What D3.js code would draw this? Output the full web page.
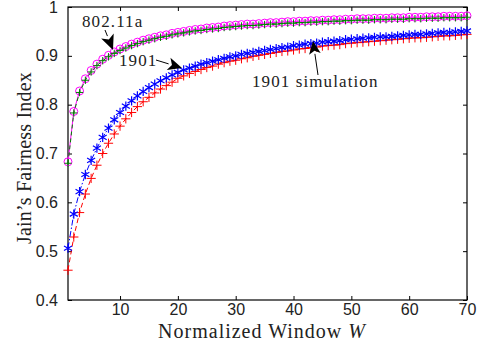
<!DOCTYPE html>
<html>
<head>
<meta charset="utf-8" />
<title>Jain's Fairness Index</title>
<style>
body { margin: 0; background: #fff; }
#graph { width: 482px; height: 352px; }
.tick text { font-family: "Liberation Sans", Arial, sans-serif; font-size: 16px; fill: #222; }
.title { font-family: "Liberation Serif", "DejaVu Serif", serif; font-size: 20px; letter-spacing: 1px; fill: #222; }
.ytitle { letter-spacing: 0.2px; }
.note { font-family: "Liberation Serif", "DejaVu Serif", serif; font-size: 17px; letter-spacing: 1.1px; fill: #222; }
</style>
</head>
<body>
<div id="graph"></div>
<script src="https://cdnjs.cloudflare.com/ajax/libs/d3/7.8.5/d3.min.js"></script>
<script>
// Normalized window W = 1..70
var windows = d3.range(1, 71)

var xTicks = [10, 20, 30, 40, 50, 60, 70]
var yTicks = [0.4, 0.5, 0.6, 0.7, 0.8, 0.9, 1]

// 802.11a analysis (magenta circles)
var analysis80211a = [
  .683, .786, .828, .853, .870, .883, .893, .901, .908, .914,
  .919, .924, .928, .932, .935, .938, .941, .943, .946, .948,
  .950, .952, .954, .955, .957, .958, .959, .961, .962, .963,
  .964, .965, .965, .966, .967, .968, .968, .969, .970, .970,
  .971, .971, .972, .972, .973, .973, .974, .974, .975, .975,
  .976, .976, .976, .977, .977, .977, .978, .978, .978, .979,
  .979, .979, .980, .980, .980, .981, .981, .981, .981, .982]

// 802.11a simulation (green plus)
var simulation80211a = [
  .680, .783, .825, .850, .867, .880, .890, .898, .905, .911,
  .916, .921, .925, .929, .932, .935, .938, .940, .943, .945,
  .947, .949, .951, .952, .954, .955, .956, .958, .959, .960,
  .961, .962, .962, .963, .964, .965, .965, .966, .967, .967,
  .968, .968, .969, .969, .970, .970, .971, .971, .972, .972,
  .973, .973, .973, .974, .974, .974, .975, .975, .975, .976,
  .976, .976, .977, .977, .977, .978, .978, .978, .978, .979]

// 1901 analysis (blue stars)
var analysis1901 = [
  .506, .576, .622, .657, .686, .711, .733, .752, .769, .784,
  .797, .808, .818, .827, .835, .842, .849, .855, .861, .866,
  .871, .875, .879, .883, .886, .889, .892, .895, .898, .900,
  .903, .905, .907, .909, .911, .913, .915, .917, .918, .921,
  .922, .924, .925, .926, .928, .929, .930, .931, .933, .934,
  .935, .936, .937, .938, .939, .939, .940, .941, .942, .943,
  .944, .944, .945, .946, .947, .948, .948, .949, .950, .951]

// 1901 simulation (red)
var simulation1901 = [
  .461, .529, .579, .617, .649, .676, .700, .721, .740, .756,
  .771, .784, .796, .806, .815, .824, .832, .839, .846, .854,
  .859, .864, .868, .872, .876, .879, .883, .886, .889, .891,
  .894, .896, .899, .901, .903, .905, .907, .909, .910, .912,
  .914, .915, .917, .918, .920, .921, .922, .923, .925, .926,
  .927, .928, .929, .930, .931, .932, .933, .934, .935, .936,
  .937, .937, .938, .939, .940, .941, .941, .942, .943, .944]

!(function(){
    "use strict"

    var width = 482, height = 352
    var margin = {top: 7, left: 68, bottom: 52, right: 15}
    var chartWidth = width - margin.left - margin.right
    var chartHeight = height - margin.top - margin.bottom

    var svg = d3.select("#graph").append("svg")
        .attr("width", width).attr("height", height)

    var chartLayer = svg.append("g")
        .attr("transform", "translate(" + [margin.left, margin.top] + ")")

    var xScale = d3.scaleLinear().domain([1, 70]).range([0, chartWidth])
    var yScale = d3.scaleLinear().domain([0.4, 1]).range([chartHeight, 0])

    // axes, MATLAB style: ticks inside on all four sides
    var fmtY = function(d){ return d === 1 ? "1" : d3.format(".1f")(d) }

    chartLayer.append("g")
        .attr("transform", "translate(0," + chartHeight + ")")
        .call(d3.axisBottom(xScale).tickValues(xTicks).tickSizeInner(-4).tickSizeOuter(0).tickPadding(4))
    chartLayer.append("g")
        .call(d3.axisTop(xScale).tickValues(xTicks).tickSizeInner(-4).tickSizeOuter(0).tickFormat(""))
    chartLayer.append("g")
        .call(d3.axisLeft(yScale).tickValues(yTicks).tickFormat(fmtY).tickSizeInner(-4).tickSizeOuter(0).tickPadding(10))
    chartLayer.append("g")
        .attr("transform", "translate(" + chartWidth + ",0)")
        .call(d3.axisRight(yScale).tickValues(yTicks).tickSizeInner(-4).tickSizeOuter(0).tickFormat(""))

    chartLayer.selectAll(".domain").remove()
    chartLayer.selectAll(".tick line").attr("stroke", "#000")
    chartLayer.append("rect")
        .attr("width", chartWidth).attr("height", chartHeight)
        .attr("fill", "none").attr("stroke", "#000").attr("stroke-width", 1.2)

    var plot = chartLayer.append("g")

    function drawSeries(values, color, dash, symbol, size, width) {
        var pts = windows.map(function(w, i){ return [w, values[i]] })
        var line = d3.line()
            .x(function(d){ return xScale(d[0]) })
            .y(function(d){ return yScale(d[1]) })
        plot.append("path")
            .datum(pts)
            .attr("d", line)
            .attr("fill", "none")
            .attr("stroke", color)
            .attr("stroke-width", 1)
            .attr("stroke-dasharray", dash)
        plot.append("g").selectAll("path").data(pts).enter().append("path")
            .attr("transform", function(d){ return "translate(" + [xScale(d[0]), yScale(d[1])] + ")" })
            .attr("d", d3.symbol().type(symbol).size(size))
            .attr("fill", "none")
            .attr("stroke", color)
            .attr("stroke-width", width)
    }

    drawSeries(analysis80211a, "#ff00ff", null, d3.symbolCircle, 50, 1)
    drawSeries(simulation80211a, "#008000", "4 3", d3.symbolPlus, 20, 1)
    drawSeries(simulation1901, "#ff0000", "5 3", d3.symbolPlus, 30, 1)
    drawSeries(analysis1901, "#0000ff", "6 2 1.5 2", d3.symbolAsterisk, 60, 1.2)

    // annotations
    function arrow(x1, y1, x2, y2, head) {
        var a = Math.atan2(y2 - y1, x2 - x1)
        var bx = x2 - head * Math.cos(a), by = y2 - head * Math.sin(a)
        var w = head * 0.45
        svg.append("line")
            .attr("x1", x1).attr("y1", y1).attr("x2", bx).attr("y2", by)
            .attr("stroke", "#000").attr("stroke-width", 1)
        svg.append("path")
            .attr("d", "M" + x2 + "," + y2 +
                "L" + (bx - w * Math.sin(a)) + "," + (by + w * Math.cos(a)) +
                "L" + (bx + head * 0.25 * Math.cos(a)) + "," + (by + head * 0.25 * Math.sin(a)) +
                "L" + (bx + w * Math.sin(a)) + "," + (by - w * Math.cos(a)) + "Z")
            .attr("fill", "#000")
    }

    svg.append("text").attr("class", "note").attr("x", 82).attr("y", 27).text("802.11a")
    arrow(105, 30, 113, 50, 15)
    svg.append("text").attr("class", "note").attr("x", 119).attr("y", 66).text("1901")
    arrow(156, 60, 182, 68, 14)
    svg.append("text").attr("class", "note").attr("x", 252).attr("y", 87).text("1901 simulation")
    arrow(318, 75, 313, 41, 13)

    // axis titles
    svg.append("text").attr("class", "title")
        .attr("x", 262).attr("y", 338)
        .attr("text-anchor", "middle")
        .html('Normalized Window <tspan font-style="italic">W</tspan>')
    svg.append("text").attr("class", "title ytitle")
        .attr("transform", "translate(31,158) rotate(-90)")
        .attr("text-anchor", "middle")
        .text("Jain\u2019s Fairness Index")
}());
</script>
</body>
</html>
